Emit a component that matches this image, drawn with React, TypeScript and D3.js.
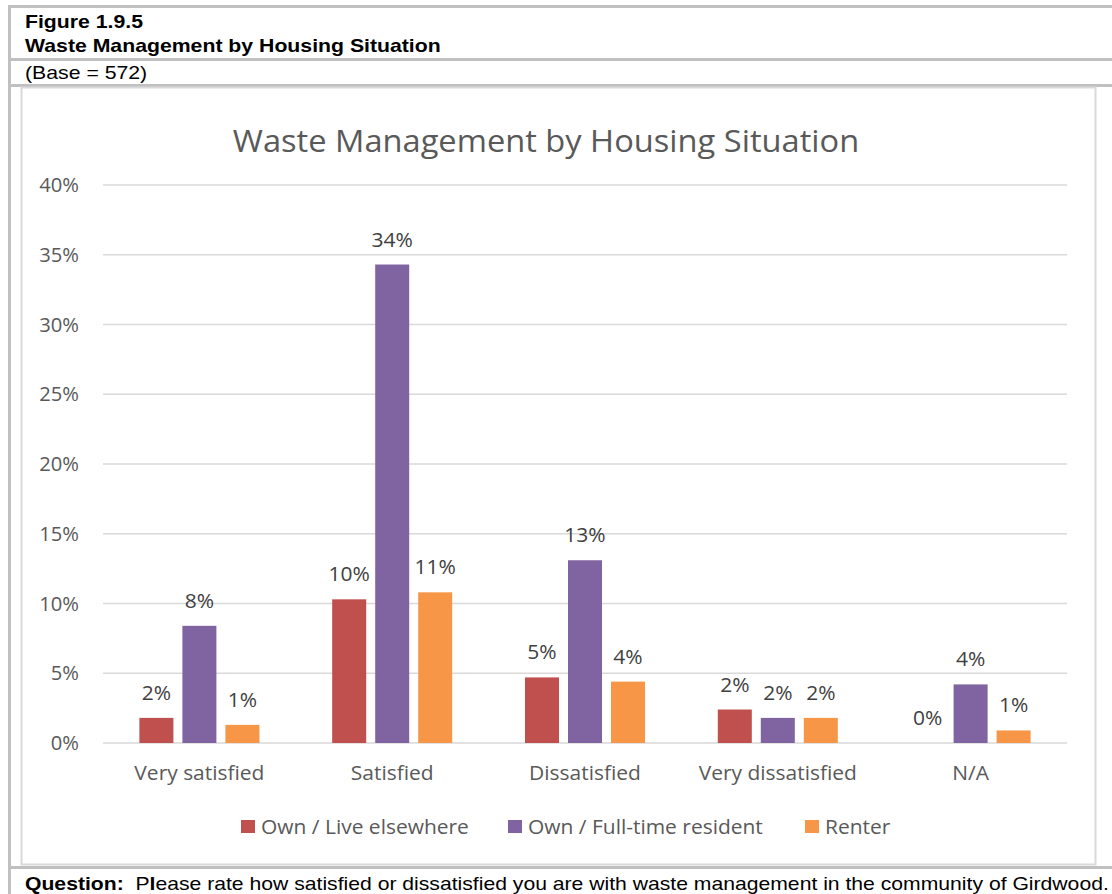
import * as d3 from 'd3';
import type { ReactNode } from 'react';

const categories = ['Very satisfied', 'Satisfied', 'Dissatisfied', 'Very dissatisfied', 'N/A'];
const seriesNames = ['Own / Live elsewhere', 'Own / Full-time resident', 'Renter'];
const seriesColors = ['#C0504D', '#8064A2', '#F79646'];
const liveElsewhere = [1.8, 10.3, 4.7, 2.4, 0];
const fullTime = [8.4, 34.3, 13.1, 1.8, 4.2];
const renter = [1.3, 10.8, 4.4, 1.8, 0.9];
const yTicks = [0, 5, 10, 15, 20, 25, 30, 35, 40];

const W = 1112;
const H = 894;
const font = 'Open Sans, sans-serif';
const arial = 'Liberation Sans, Arial, sans-serif';

// the source picture is a little wider than tall, so text gets a horizontal stretch
const Txt = ({ x, y, sx = 1.07, children, ...rest }: any) => (
    <text transform={`translate(${x},${y}) scale(${sx},1)`} {...rest}>{children as ReactNode}</text>
);

const App = () => {
    const values = [liveElsewhere, fullTime, renter];

    // plot area
    const left = 103, right = 1067, top = 185, bottom = 743;

    const x0 = d3.scaleBand<string>()
        .domain(categories)
        .range([left, right])
        .padding(0);

    const x1 = d3.scaleBand<string>()
        .domain(seriesNames)
        .range([0, x0.bandwidth()])
        .paddingInner(0.209)
        .paddingOuter(0.846);

    const y = d3.scaleLinear()
        .domain([0, 40])
        .range([bottom, top]);

    // legend item start positions
    const legendX = [241, 508, 805];

    return (
        <svg width={W} height={H} style={{ position: 'absolute', left: 0, top: 0, background: 'white' }}>
            {/* outer frame */}
            <rect x={8} y={5} width={3} height={H - 5} fill="#c0c0c0" />
            <rect x={8} y={5} width={W - 8} height={3} fill="#c0c0c0" />
            <rect x={8} y={58} width={W - 8} height={3} fill="#c0c0c0" />
            <rect x={8} y={84} width={W - 8} height={3} fill="#c0c0c0" />
            <rect x={8} y={866} width={W - 8} height={3} fill="#c0c0c0" />

            {/* header */}
            <g fontFamily={arial} fill="#000" fontSize={17.7}>
                <Txt x={25} y={28} sx={1.2} fontWeight="bold">Figure 1.9.5</Txt>
                <Txt x={25} y={52} sx={1.2} fontWeight="bold">Waste Management by Housing Situation</Txt>
                <Txt x={25} y={79} sx={1.2}>(Base = 572)</Txt>
                <Txt x={25} y={890} sx={1.195}>
                    <tspan fontWeight="bold">Question:</tspan>
                    <tspan>{'\u00a0 P'}</tspan>
                    <tspan fontWeight="bold">l</tspan>
                    <tspan>ease rate how satisfied or dissatisfied you are with waste management in the community of Girdwood.</tspan>
                </Txt>
            </g>

            {/* chart area border */}
            <rect x={21.5} y={87.5} width={1074} height={777} fill="none" stroke="#d9d9d9" strokeWidth={2} />

            {/* title */}
            <Txt x={546} y={152} sx={1.06} textAnchor="middle" fontFamily={font} fontSize={30.8} fill="#595959">
                Waste Management by Housing Situation
            </Txt>

            {/* gridlines and y ticks */}
            {yTicks.map(t => (
                <g key={t}>
                    <line x1={left} x2={right} y1={y(t)} y2={y(t)} stroke="#d9d9d9" strokeWidth={1.3} />
                    <Txt x={79} y={y(t) + 7} sx={1.03} textAnchor="end" fontFamily={font} fontSize={19.6} fill="#595959">
                        {t}%
                    </Txt>
                </g>
            ))}

            {/* bars */}
            {categories.map((c, ci) => (
                <g key={c} transform={`translate(${x0(c)},0)`}>
                    {seriesNames.map((s, si) => {
                        const v = values[si][ci];
                        const bx = x1(s)!;
                        return (
                            <g key={s}>
                                <rect x={bx} y={y(v)} width={x1.bandwidth()} height={y(0) - y(v)} fill={seriesColors[si]} />
                                <Txt x={bx + x1.bandwidth() / 2} y={y(v) - 18} textAnchor="middle"
                                    fontFamily={font} fontSize={19.6} fill="#404040">
                                    {Math.round(v)}%
                                </Txt>
                            </g>
                        );
                    })}
                    <Txt x={x0.bandwidth() / 2} y={780} textAnchor="middle" fontFamily={font} fontSize={19.6} fill="#595959">
                        {c}
                    </Txt>
                </g>
            ))}

            {/* legend */}
            {seriesNames.map((s, i) => (
                <g key={s} transform={`translate(${legendX[i]},820)`}>
                    <rect x={0} y={0} width={14} height={13} fill={seriesColors[i]} />
                    <Txt x={20} y={13.5} fontFamily={font} fontSize={19.6} fill="#595959">{s}</Txt>
                </g>
            ))}
        </svg>
    );
};

export default App;
